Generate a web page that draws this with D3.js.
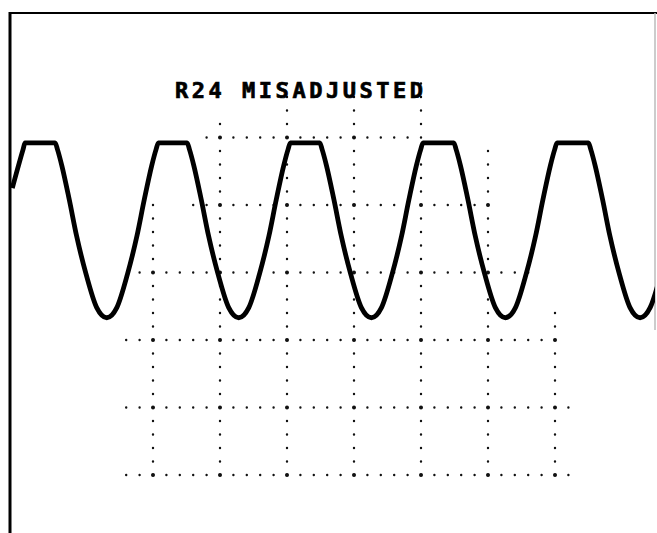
<!DOCTYPE html>
<html>
<head>
<meta charset="utf-8">
<script src="https://cdn.jsdelivr.net/npm/d3@7"></script>
<style>
  html, body { margin: 0; padding: 0; background: #fff; }
  svg { display: block; }
</style>
</head>
<body>
<script>
// ---- Data (graticule divisions) ----
const title = "R24 MISADJUSTED";

// trace: time (div) and voltage (div)
const traceTime = [
  -5.10, -4.94, -4.91, -4.46, -4.425, -4.36, -4.25, -4.14, -4.00, -3.84, -3.69, -3.54, -3.38, -3.24, -3.13, -3.02, -2.955, -2.92,
  -2.49, -2.455, -2.39, -2.28, -2.17, -2.03, -1.87, -1.72, -1.57, -1.41, -1.27, -1.16, -1.05, -0.985, -0.95,
  -0.51, -0.475, -0.41, -0.30, -0.19, -0.05, 0.11, 0.26, 0.41, 0.57, 0.71, 0.82, 0.93, 0.995, 1.03,
  1.49, 1.525, 1.59, 1.70, 1.81, 1.95, 2.11, 2.26, 2.41, 2.57, 2.71, 2.82, 2.93, 2.995, 3.03,
  3.50, 3.535, 3.60, 3.71, 3.82, 3.96, 4.12, 4.27, 4.42, 4.58, 4.72
];
const traceVolts = [
  2.25, 2.82, 2.92, 2.92, 2.82, 2.58, 2.08, 1.54, 0.98, 0.48, 0.33, 0.48, 0.98, 1.54, 2.08, 2.58, 2.82, 2.92,
  2.92, 2.82, 2.58, 2.08, 1.54, 0.98, 0.48, 0.33, 0.48, 0.98, 1.54, 2.08, 2.58, 2.82, 2.92,
  2.92, 2.82, 2.58, 2.08, 1.54, 0.98, 0.48, 0.33, 0.48, 0.98, 1.54, 2.08, 2.58, 2.82, 2.92,
  2.92, 2.82, 2.58, 2.08, 1.54, 0.98, 0.48, 0.33, 0.48, 0.98, 1.54, 2.08, 2.58, 2.82, 2.92,
  2.92, 2.82, 2.58, 2.08, 1.54, 0.98, 0.48, 0.33, 0.48, 0.98, 1.54
];

// visible graticule lines (divisions)
const vGridX    = [-3, -2, -1, 0, 1, 2, 3];
const vGridFrom = [-2, -2, -2, -2, -2, -2, -2];
const vGridTo   = [2.2, 3.4, 4.0, 4.0, 4.0, 3.0, 0.6];
const hGridY    = [-2, -1, 0, 1, 2, 3];
const hGridFrom = [-3.4, -3.4, -3.4, -3.2, -2.4, -2.2];
const hGridTo   = [3.2, 3.2, 3.0, 2.8, 2.0, 0.8];

// ---- Layout ----
const W = 657, H = 533;
const frame = { left: 10, top: 13, right: 655 };

const x = d3.scaleLinear().domain([-5, 5]).range([19, 689]);
const y = d3.scaleLinear().domain([-4, 4]).range([610, 70]);

const svg = d3.select("body").append("svg")
  .attr("width", W).attr("height", H);

svg.append("rect").attr("width", W).attr("height", H).attr("fill", "#fff");

svg.append("defs").append("clipPath").attr("id", "clip")
  .append("rect")
  .attr("x", frame.left).attr("y", frame.top)
  .attr("width", frame.right - frame.left).attr("height", H - frame.top);

// graticule dots
const stepX = x(0.2) - x(0);
const stepY = y(0) - y(0.2);
const g = svg.append("g").attr("fill", "none").attr("stroke", "#111")
  .attr("stroke-linecap", "round");

g.selectAll("line.v").data(vGridX).join("line")
  .attr("class", "v")
  .attr("x1", d => x(d)).attr("x2", d => x(d))
  .attr("y1", (d, i) => y(vGridFrom[i])).attr("y2", (d, i) => y(vGridTo[i]))
  .attr("stroke-width", 2.4)
  .attr("stroke-dasharray", `0 ${stepY}`);

g.selectAll("line.h").data(hGridY).join("line")
  .attr("class", "h")
  .attr("y1", d => y(d)).attr("y2", d => y(d))
  .attr("x1", (d, i) => x(hGridFrom[i])).attr("x2", (d, i) => x(hGridTo[i]))
  .attr("stroke-width", 2.4)
  .attr("stroke-dasharray", `0 ${stepX}`);

// larger dots at intersections
const cross = [];
vGridX.forEach((vx, i) => hGridY.forEach((hy, j) => {
  if (hy >= vGridFrom[i] && hy <= vGridTo[i] && vx >= hGridFrom[j] && vx <= hGridTo[j]) cross.push([vx, hy]);
}));
svg.append("g").selectAll("circle").data(cross).join("circle")
  .attr("cx", d => x(d[0])).attr("cy", d => y(d[1])).attr("r", 2)
  .attr("fill", "#111");

// frame
svg.append("line").attr("x1", frame.left).attr("x2", frame.left)
  .attr("y1", frame.top - 1).attr("y2", H)
  .attr("stroke", "#000").attr("stroke-width", 3);
svg.append("line").attr("x1", frame.left).attr("x2", W)
  .attr("y1", frame.top).attr("y2", frame.top)
  .attr("stroke", "#000").attr("stroke-width", 2);
svg.append("line").attr("x1", frame.right).attr("x2", frame.right)
  .attr("y1", frame.top).attr("y2", 330)
  .attr("stroke", "#bbb").attr("stroke-width", 1.5);

// trace
const pts = traceTime.map((t, i) => [t, traceVolts[i]]);
const line = d3.line().x(d => x(d[0])).y(d => y(d[1])).curve(d3.curveMonotoneX);
svg.append("path")
  .attr("clip-path", "url(#clip)")
  .attr("d", line(pts))
  .attr("fill", "none")
  .attr("stroke", "#000")
  .attr("stroke-width", 4.8)
  .attr("stroke-linejoin", "round");

// title
svg.append("text")
  .attr("x", 175).attr("y", 97.5)
  .attr("font-family", "'DejaVu Sans Mono', monospace")
  .attr("font-weight", "bold")
  .attr("font-size", 22)
  .attr("textLength", 248)
  .attr("lengthAdjust", "spacing")
  .attr("fill", "#000")
  .attr("stroke", "#000")
  .attr("stroke-width", 0.7)
  .text(title);
</script>
</body>
</html>
